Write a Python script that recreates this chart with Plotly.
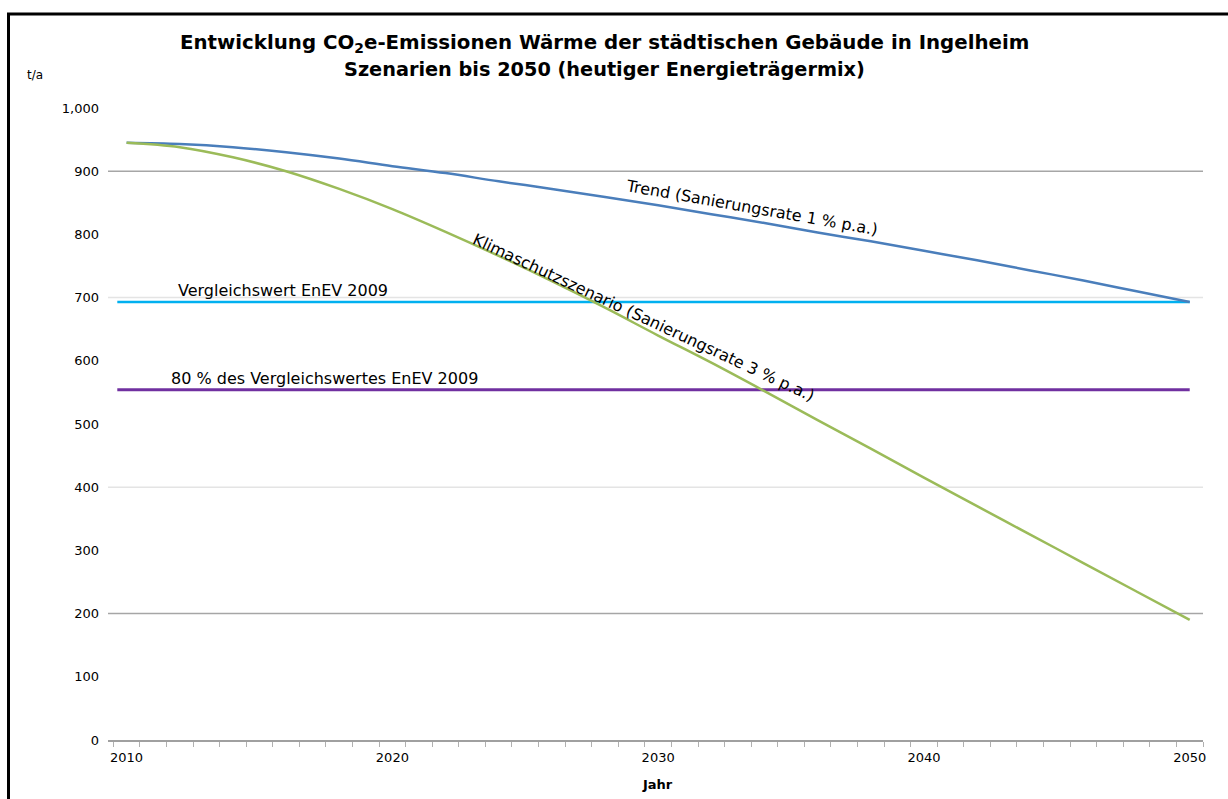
import plotly.graph_objects as go

# Years and scenario values (t/a CO2e)
years = [2010, 2012, 2014, 2016, 2018, 2020, 2022, 2024, 2026, 2028, 2030,
         2032, 2034, 2036, 2038, 2040, 2042, 2044, 2046, 2048, 2050]
trend = [945, 943, 938, 930, 920, 908, 897, 884, 872, 859, 846,
         832, 818, 803, 789, 774, 759, 743, 727, 710, 693]
klimaschutz = [945, 938, 922, 900, 872, 840, 804, 766, 726, 684, 640,
               597, 552, 506, 461, 415, 370, 325, 280, 235, 190]

# Reference values (EnEV 2009)
ref_span = [2009.65, 2050]
vergleichswert = 693
vergleich_80 = round(0.8 * vergleichswert)

y_ticks = list(range(0, 1001, 100))
x_ticks = [2010, 2020, 2030, 2040, 2050]
grid_dark = [900, 200]
grid_light = [700, 400]

title_lines = [
    "Entwicklung CO<sub>2</sub>e-Emissionen Wärme der städtischen Gebäude in Ingelheim",
    "Szenarien bis 2050 (heutiger Energieträgermix)",
]

FONT = "DejaVu Sans, sans-serif"

# plot area in pixels (for placing free text around it)
L, R, T, B = 108, 1203, 108, 740


def px_x(px):
    return (px - L) / (R - L)


def px_y(py):
    return (B - py) / (B - T)


fig = go.Figure()

fig.add_trace(go.Scatter(x=ref_span, y=[vergleichswert] * 2, mode="lines",
                         line=dict(color="#00b0f0", width=2.5), hoverinfo="skip"))
fig.add_trace(go.Scatter(x=ref_span, y=[vergleich_80] * 2, mode="lines",
                         line=dict(color="#7030a0", width=3), hoverinfo="skip"))
fig.add_trace(go.Scatter(x=years, y=trend, mode="lines", line_shape="spline",
                         line=dict(color="#4a7ebb", width=2.5)))
fig.add_trace(go.Scatter(x=years, y=klimaschutz, mode="lines", line_shape="spline",
                         line=dict(color="#9bbb59", width=2.5)))

shapes = []
for g in grid_dark:
    shapes.append(dict(type="line", xref="paper", yref="y", x0=0, x1=1, y0=g, y1=g,
                       line=dict(color="#a6a6a6", width=1.5), layer="below"))
for g in grid_light:
    shapes.append(dict(type="line", xref="paper", yref="y", x0=0, x1=1, y0=g, y1=g,
                       line=dict(color="#e4e4e4", width=1.5), layer="below"))
# outer chart frame
shapes.append(dict(type="rect", xref="paper", yref="paper",
                   x0=px_x(8.5), x1=1.2, y0=-0.3, y1=px_y(14),
                   line=dict(color="black", width=3)))

label_font = dict(family=FONT, size=16, color="black")
annotations = [
    dict(text="Vergleichswert EnEV 2009", x=2011.85, y=vergleichswert, xref="x", yref="y",
         xanchor="left", yanchor="bottom", yshift=0, showarrow=False, font=label_font),
    dict(text="80 % des Vergleichswertes EnEV 2009", x=2011.6, y=vergleich_80, xref="x", yref="y",
         xanchor="left", yanchor="bottom", yshift=0, showarrow=False, font=label_font),
    dict(text="Trend (Sanierungsrate 1 % p.a.)", x=2033.5, y=842, xref="x", yref="y",
         textangle=10, showarrow=False, font=label_font),
    dict(text="Klimaschutzszenario (Sanierungsrate 3 % p.a.)", x=2029.45, y=668, xref="x", yref="y",
         textangle=25, showarrow=False, font=label_font),
    dict(text="t/a", x=px_x(35), y=px_y(75), xref="paper", yref="paper",
         xanchor="center", yanchor="middle", showarrow=False,
         font=dict(family=FONT, size=12, color="black")),
    dict(text="<b>Jahr</b>", x=px_x(657), y=px_y(784), xref="paper", yref="paper",
         xanchor="center", yanchor="middle", showarrow=False,
         font=dict(family=FONT, size=13, color="black")),
]
for text, py, size in zip(title_lines, [44, 70], [19.8, 19.3]):
    annotations.append(dict(text="<b>" + text + "</b>", x=px_x(604), y=px_y(py),
                            xref="paper", yref="paper", xanchor="center", yanchor="middle",
                            showarrow=False, font=dict(family=FONT, size=size, color="black")))

fig.update_layout(
    width=1228, height=799,
    margin=dict(l=L, r=1228 - R, t=T, b=799 - B),
    paper_bgcolor="white", plot_bgcolor="white",
    showlegend=False,
    shapes=shapes,
    annotations=annotations,
    xaxis=dict(range=[2009.3, 2050.5], tickvals=x_ticks, ticktext=[str(v) for v in x_ticks],
               showgrid=False, zeroline=False, showline=True, linecolor="#a0a0a0", linewidth=2,
               ticks="", ticklabelstandoff=4, tickfont=dict(family=FONT, size=13, color="black"),
               minor=dict(ticks="outside", tick0=2010.5, dtick=1, ticklen=5,
                          tickcolor="#b0b0b0", tickwidth=1, showgrid=False)),
    yaxis=dict(range=[0, 1000], tickvals=y_ticks, tickformat=",", showgrid=False,
               zeroline=False, showline=False, ticks="", ticklabelstandoff=8,
               tickfont=dict(family=FONT, size=13, color="black")),
)

fig.write_html("out.html")
